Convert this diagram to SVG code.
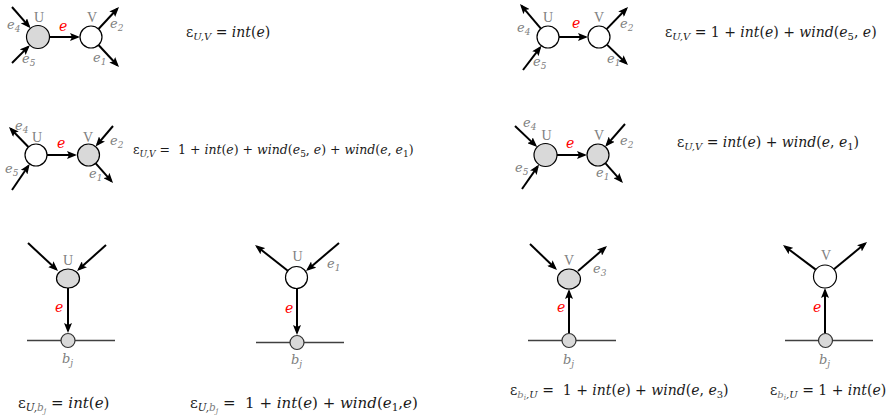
<svg xmlns="http://www.w3.org/2000/svg" width="896" height="417" viewBox="0 0 896 417">
<style>
.bg{fill:#ffffff}
.a{stroke:#000;stroke-width:2;fill:none;marker-end:url(#ah)}
.ng{fill:#d9d9d9;stroke:#000;stroke-width:1.2}
.nw{fill:#ffffff;stroke:#000;stroke-width:1.2}
.bn{fill:#d9d9d9;stroke:#333;stroke-width:1.2}
.base{stroke:#404040;stroke-width:1.6;fill:none}
.n{font-family:"Liberation Serif",serif;font-size:14px;fill:#808080;text-anchor:middle}
.el{font-family:"DejaVu Serif",serif;font-style:italic;font-size:13px;fill:#808080}
.re{font-family:"DejaVu Serif",serif;font-style:italic;font-size:14px;fill:#ff0000}
.f{font-family:"DejaVu Serif",serif;font-size:14px;fill:#1a1a1a}
.f13{font-size:12.5px}
.f15{font-size:15px}
.i{font-style:italic}
.s{font-size:10px}
.s9{font-size:9px}
.s11{font-size:10.5px}
.ss{font-size:9px}
.sss{font-size:7.5px}
.ss8{font-size:8px}
.g{fill:#808080}
</style>
<defs>
<marker id="ah" markerUnits="userSpaceOnUse" markerWidth="10" markerHeight="8" refX="7.5" refY="4" orient="auto" viewBox="0 0 10 8">
<path d="M0,0 L10,4 L0,8 L2,4 Z" fill="#000"/>
</marker>
</defs>
<rect class="bg" x="0" y="0" width="896" height="417"/>

<g id="connectors">
<!-- panel 1 -->
<line class="a" x1="12" y1="7" x2="28.9" y2="26.4"/>
<line class="a" x1="12" y1="63" x2="28.1" y2="46.9"/>
<line class="a" x1="49.5" y1="37" x2="77.5" y2="37"/>
<line class="a" x1="98.5" y1="29" x2="117.3" y2="8.8"/>
<line class="a" x1="98.5" y1="45" x2="117.3" y2="65.2"/>
<!-- panel 2 -->
<line class="a" x1="540.9" y1="28.6" x2="521.6" y2="5.9"/>
<line class="a" x1="523" y1="70" x2="539.9" y2="47.8"/>
<line class="a" x1="559" y1="37" x2="585.5" y2="37"/>
<line class="a" x1="606.6" y1="29.1" x2="626.3" y2="8.8"/>
<line class="a" x1="606.9" y1="44.6" x2="626.2" y2="63.3"/>
<!-- panel 3 -->
<line class="a" x1="28.4" y1="147" x2="10.7" y2="128.8"/>
<line class="a" x1="12" y1="190" x2="28.3" y2="166"/>
<line class="a" x1="47" y1="155" x2="74.5" y2="155"/>
<line class="a" x1="113" y1="126" x2="97.2" y2="144.7"/>
<line class="a" x1="95.7" y1="163.3" x2="111.4" y2="181.1"/>
<!-- panel 4 -->
<line class="a" x1="515" y1="126" x2="535.4" y2="145.4"/>
<line class="a" x1="522" y1="189" x2="537.6" y2="166.6"/>
<line class="a" x1="557" y1="155" x2="584.5" y2="155"/>
<line class="a" x1="625" y1="124" x2="606.8" y2="144.8"/>
<line class="a" x1="605.3" y1="163.2" x2="621.3" y2="181.1"/>
<!-- bottom 1 -->
<line class="a" x1="28" y1="243" x2="56.2" y2="269.3"/>
<line class="a" x1="106" y1="245" x2="78.9" y2="269.3"/>
<line class="a" x1="68" y1="288" x2="68" y2="330.5"/>
<line class="base" x1="27" y1="340.5" x2="115" y2="340.5"/>
<!-- bottom 2 -->
<line class="a" x1="287.8" y1="270.7" x2="257" y2="246.5"/>
<line class="a" x1="339" y1="243" x2="307.9" y2="269.4"/>
<line class="a" x1="297" y1="288.5" x2="297" y2="332.5"/>
<line class="base" x1="256" y1="342.5" x2="344" y2="342.5"/>
<!-- bottom 3 -->
<line class="a" x1="530" y1="244" x2="555.2" y2="268.3"/>
<line class="a" x1="578" y1="271" x2="605.1" y2="247.6"/>
<line class="a" x1="569" y1="333.5" x2="569" y2="291.5"/>
<line class="base" x1="528" y1="340.5" x2="616" y2="340.5"/>
<!-- bottom 4 -->
<line class="a" x1="815.8" y1="269.6" x2="785" y2="246.5"/>
<line class="a" x1="833.9" y1="269.2" x2="865.1" y2="243.6"/>
<line class="a" x1="825" y1="333.5" x2="825" y2="290.5"/>
<line class="base" x1="785" y1="340.5" x2="873" y2="340.5"/>
</g>

<!-- Panel 1 -->
<g id="p1-U"><circle class="ng" cx="38" cy="37" r="11.5"/><text class="n" x="39" y="22">U</text></g>
<g id="p1-V"><circle class="nw" cx="91" cy="37" r="11"/><text class="n" x="92" y="22">V</text></g>
<g id="p1-labels">
<text class="re" x="59" y="31">e</text>
<text class="el" x="7" y="29">e<tspan class="ss" dy="3">4</tspan></text>
<text class="el" x="22" y="63">e<tspan class="ss" dy="3">5</tspan></text>
<text class="el" x="110" y="28">e<tspan class="ss" dy="3">2</tspan></text>
<text class="el" x="93" y="62">e<tspan class="ss" dy="3">1</tspan></text>
</g>
<g id="f1"><text class="f" x="186" y="37">ε<tspan class="s i" dy="3">U,V</tspan><tspan dy="-3"> = </tspan><tspan class="i">int</tspan>(<tspan class="i">e</tspan>)</text></g>

<!-- Panel 2 -->
<g id="p2-U"><circle class="nw" cx="548" cy="37" r="11"/><text class="n" x="548" y="22">U</text></g>
<g id="p2-V"><circle class="nw" cx="599" cy="37" r="11"/><text class="n" x="599" y="22">V</text></g>
<g id="p2-labels">
<text class="re" x="572" y="28">e</text>
<text class="el" x="517" y="32">e<tspan class="ss" dy="3">4</tspan></text>
<text class="el" x="533" y="66">e<tspan class="ss" dy="3">5</tspan></text>
<text class="el" x="620" y="28">e<tspan class="ss" dy="3">2</tspan></text>
<text class="el" x="607" y="63">e<tspan class="ss" dy="3">1</tspan></text>
</g>
<g id="f2"><text class="f" x="665" y="37">ε<tspan class="s i" dy="3">U,V</tspan><tspan dy="-3"> = 1 + </tspan><tspan class="i">int</tspan>(<tspan class="i">e</tspan>) + <tspan class="i">wind</tspan>(<tspan class="i">e</tspan><tspan class="s" dy="3">5</tspan><tspan dy="-3">, </tspan><tspan class="i">e</tspan>)</text></g>

<!-- Panel 3 -->
<g id="p3-U"><circle class="nw" cx="36" cy="155" r="11"/><text class="n" x="37" y="142">U</text></g>
<g id="p3-V"><circle class="ng" cx="88.5" cy="155" r="11"/><text class="n" x="88" y="142">V</text></g>
<g id="p3-labels">
<text class="re" x="57" y="148">e</text>
<text class="el" x="15" y="130">e<tspan class="ss" dy="3">4</tspan></text>
<text class="el" x="5" y="173">e<tspan class="ss" dy="3">5</tspan></text>
<text class="el" x="110" y="145">e<tspan class="ss" dy="3">2</tspan></text>
<text class="el" x="89" y="178">e<tspan class="ss" dy="3">1</tspan></text>
</g>
<g id="f3"><text class="f f13" x="133" y="154">ε<tspan class="s9 i" dy="3">U,V</tspan><tspan dy="-3"> = &#160;1 + </tspan><tspan class="i">int</tspan>(<tspan class="i">e</tspan>) + <tspan class="i">wind</tspan>(<tspan class="i">e</tspan><tspan class="s9" dy="3">5</tspan><tspan dy="-3">, </tspan><tspan class="i">e</tspan>) + <tspan class="i">wind</tspan>(<tspan class="i">e</tspan>, <tspan class="i">e</tspan><tspan class="s9" dy="3">1</tspan><tspan dy="-3">)</tspan></text></g>

<!-- Panel 4 -->
<g id="p4-U"><circle class="ng" cx="545.5" cy="155" r="11.5"/><text class="n" x="546.5" y="140">U</text></g>
<g id="p4-V"><circle class="ng" cx="598" cy="155" r="11"/><text class="n" x="599" y="140">V</text></g>
<g id="p4-labels">
<text class="re" x="566" y="148">e</text>
<text class="el" x="523" y="127">e<tspan class="ss" dy="3">4</tspan></text>
<text class="el" x="515" y="172">e<tspan class="ss" dy="3">5</tspan></text>
<text class="el" x="620" y="145">e<tspan class="ss" dy="3">2</tspan></text>
<text class="el" x="596" y="177">e<tspan class="ss" dy="3">1</tspan></text>
</g>
<g id="f4"><text class="f" x="677" y="147">ε<tspan class="s i" dy="3">U,V</tspan><tspan dy="-3"> = </tspan><tspan class="i">int</tspan>(<tspan class="i">e</tspan>) + <tspan class="i">wind</tspan>(<tspan class="i">e</tspan>, <tspan class="i">e</tspan><tspan class="s" dy="3">1</tspan><tspan dy="-3">)</tspan></text></g>

<!-- Bottom 1 -->
<g id="b1-U"><ellipse class="ng" cx="68" cy="278.5" rx="11.5" ry="9.5"/><text class="n" x="68" y="265">U</text></g>
<g id="b1-bj"><circle class="bn" cx="68" cy="340.5" r="7"/><text class="el" x="62" y="363">b<tspan class="ss" dy="3">j</tspan></text></g>
<g id="b1-labels"><text class="re" x="55" y="312">e</text></g>
<g id="f5"><text class="f f15" x="18" y="408">ε<tspan class="s11 i" dy="3">U,</tspan><tspan class="s11 i g">b</tspan><tspan class="ss8 i g" dy="2">j</tspan><tspan dy="-5"> = </tspan><tspan class="i">int</tspan>(<tspan class="i">e</tspan>)</text></g>

<!-- Bottom 2 -->
<g id="b2-U"><circle class="nw" cx="296.5" cy="277.5" r="11"/><text class="n" x="297.5" y="261">U</text></g>
<g id="b2-bj"><circle class="bn" cx="297" cy="342.5" r="7"/><text class="el" x="291" y="364">b<tspan class="ss" dy="3">j</tspan></text></g>
<g id="b2-labels">
<text class="re" x="285" y="313">e</text>
<text class="el" x="327" y="268">e<tspan class="ss" dy="3">1</tspan></text>
</g>
<g id="f6"><text class="f f15" x="190" y="408">ε<tspan class="s11 i" dy="3">U,</tspan><tspan class="s11 i g">b</tspan><tspan class="ss8 i g" dy="2">j</tspan><tspan dy="-5"> = &#160;1 + </tspan><tspan class="i">int</tspan>(<tspan class="i">e</tspan>) + <tspan class="i">wind</tspan>(<tspan class="i">e</tspan><tspan class="s11" dy="3">1</tspan><tspan dy="-3">,</tspan><tspan class="i">e</tspan>)</text></g>

<!-- Bottom 3 -->
<g id="b3-V"><ellipse class="ng" cx="569" cy="279" rx="11.5" ry="10"/><text class="n" x="569" y="265">V</text></g>
<g id="b3-bj"><circle class="bn" cx="569" cy="340.5" r="7"/><text class="el" x="563" y="364">b<tspan class="ss" dy="3">j</tspan></text></g>
<g id="b3-labels">
<text class="re" x="557" y="312">e</text>
<text class="el" x="593" y="273">e<tspan class="ss" dy="3">3</tspan></text>
</g>
<g id="f7"><text class="f" x="510" y="395">ε<tspan class="s i g" dy="3">b</tspan><tspan class="sss i g" dy="2">i</tspan><tspan class="s i" dy="-2">,U</tspan><tspan dy="-3"> = &#160;1 + </tspan><tspan class="i">int</tspan>(<tspan class="i">e</tspan>) + <tspan class="i">wind</tspan>(<tspan class="i">e</tspan>, <tspan class="i">e</tspan><tspan class="s" dy="3">3</tspan><tspan dy="-3">)</tspan></text></g>

<!-- Bottom 4 -->
<g id="b4-V"><circle class="nw" cx="825" cy="276.5" r="11.5"/><text class="n" x="826" y="260">V</text></g>
<g id="b4-bj"><circle class="bn" cx="825.5" cy="340.5" r="7"/><text class="el" x="819" y="364">b<tspan class="ss" dy="3">j</tspan></text></g>
<g id="b4-labels"><text class="re" x="813" y="312">e</text></g>
<g id="f8"><text class="f" x="770" y="395">ε<tspan class="s i g" dy="3">b</tspan><tspan class="sss i g" dy="2">i</tspan><tspan class="s i" dy="-2">,U</tspan><tspan dy="-3"> = 1 + </tspan><tspan class="i">int</tspan>(<tspan class="i">e</tspan>)</text></g>
</svg>
